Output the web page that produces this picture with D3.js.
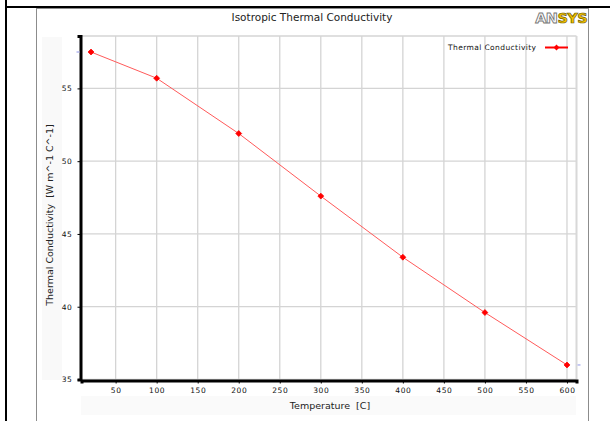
<!DOCTYPE html>
<html>
<head>
<meta charset="utf-8">
<script src="https://cdn.jsdelivr.net/npm/d3@7"></script>
<style>
  body { margin: 0; background: #fff; }
  svg text { font-family: "DejaVu Sans", sans-serif; white-space: pre; }
</style>
</head>
<body>
<div id="chart"></div>
<script>
// data
const temperatures = [20, 100, 200, 300, 400, 500, 600];
const conductivity = [57.5, 55.7, 51.9, 47.6, 43.4, 39.6, 36.0];
const xTicks = [50, 100, 150, 200, 250, 300, 350, 400, 450, 500, 550, 600];
const yTicks = [35, 40, 45, 50, 55];
const seriesName = "Thermal Conductivity";

function createConductivityChart() {
    const width = 610;
    const height = 421;

    const svg = d3.select("#chart")
        .append("svg")
        .attr("width", width)
        .attr("height", height);

    // outer window frame
    svg.append("rect")
        .attr("x", 36.5).attr("y", 8.5)
        .attr("width", 552).attr("height", 420)
        .attr("fill", "#fff")
        .attr("stroke", "#8c8c8c");
    svg.append("line")
        .attr("x1", 6).attr("x2", 610).attr("y1", 7).attr("y2", 7)
        .attr("stroke", "#000").attr("stroke-width", 2);
    svg.append("line")
        .attr("x1", 6).attr("x2", 6).attr("y1", 0).attr("y2", 421)
        .attr("stroke", "#000").attr("stroke-width", 2);

    // faint label bands
    svg.append("rect")
        .attr("x", 42).attr("y", 37).attr("width", 20).attr("height", 343)
        .attr("fill", "#f9f9f9");
    svg.append("rect")
        .attr("x", 81).attr("y", 396).attr("width", 495).attr("height", 19)
        .attr("fill", "#fafafa");

    const x = d3.scaleLinear().domain([8.4, 611.6]).range([81.5, 576.5]);
    const y = d3.scaleLinear().domain([35, 58.6]).range([379.5, 36]);

    // grid
    svg.append("g")
        .selectAll("line")
        .data(xTicks)
        .join("line")
        .attr("x1", d => x(d)).attr("x2", d => x(d))
        .attr("y1", y(58.6)).attr("y2", y(35))
        .attr("stroke", "#d4d4d4").attr("stroke-width", 1.3);
    svg.append("g")
        .selectAll("line")
        .data(yTicks.concat([58.6]))
        .join("line")
        .attr("x1", x(8.4)).attr("x2", x(611.6))
        .attr("y1", d => y(d)).attr("y2", d => y(d))
        .attr("stroke", "#d4d4d4").attr("stroke-width", 1.3);
    svg.append("line")
        .attr("x1", x(611.6)).attr("x2", x(611.6))
        .attr("y1", y(58.6)).attr("y2", y(35))
        .attr("stroke", "#d8d8d8").attr("stroke-width", 2);

    // axes
    const xAxis = svg.append("g")
        .attr("transform", `translate(0,${y(35) + 1})`)
        .call(d3.axisBottom(x).tickValues(xTicks).tickSize(3).tickPadding(4));
    xAxis.select(".domain").attr("stroke-width", 3);
    xAxis.selectAll("text").attr("font-size", 7.5).attr("fill", "#111")
        .attr("letter-spacing", 0.6);

    const yAxis = svg.append("g")
        .attr("transform", `translate(${x(8.4) - 1},0)`)
        .call(d3.axisLeft(y).tickValues(yTicks).tickSize(3).tickPadding(5));
    yAxis.select(".domain").attr("stroke-width", 3);
    yAxis.selectAll("text").attr("font-size", 7.5).attr("fill", "#111")
        .attr("letter-spacing", 0.6);

    // end markers on the axes
    svg.append("line")
        .attr("x1", x(8.4) - 5).attr("x2", x(8.4) - 2)
        .attr("y1", y(conductivity[0])).attr("y2", y(conductivity[0]))
        .attr("stroke", "#b4b8f0").attr("stroke-width", 1.5);
    svg.append("line")
        .attr("x1", x(611.6) + 1).attr("x2", x(611.6) + 4)
        .attr("y1", y(conductivity[6])).attr("y2", y(conductivity[6]))
        .attr("stroke", "#b4b8f0").attr("stroke-width", 1.5);

    // series
    const pts = temperatures.map((t, i) => [t, conductivity[i]]);
    svg.append("path")
        .datum(pts)
        .attr("fill", "none")
        .attr("stroke", "#ff5a5a")
        .attr("stroke-width", 1)
        .attr("d", d3.line().x(d => x(d[0])).y(d => y(d[1])));

    const diamond = d3.symbol().type(d3.symbolDiamond2).size(22);
    svg.append("g")
        .selectAll("path")
        .data(pts)
        .join("path")
        .attr("transform", d => `translate(${x(d[0])},${y(d[1])})`)
        .attr("d", diamond)
        .attr("fill", "#ff0000")
        .attr("stroke", "#ff0000")
        .attr("stroke-width", 0.8);

    // title
    svg.append("text")
        .attr("x", 312).attr("y", 21)
        .attr("text-anchor", "middle")
        .attr("font-size", 10.5)
        .attr("fill", "#222")
        .text("Isotropic Thermal Conductivity");

    // ANSYS logo
    const logo = svg.append("text")
        .attr("x", 587).attr("y", 23)
        .attr("text-anchor", "end")
        .attr("font-size", 14.5)
        .attr("font-weight", "bold")
        .attr("letter-spacing", -0.6);
    logo.append("tspan").text("AN")
        .attr("fill", "#fff").attr("stroke", "#777").attr("stroke-width", 0.9);
    logo.append("tspan").text("SYS")
        .attr("fill", "#f2c100").attr("stroke", "#6b5a00").attr("stroke-width", 0.7);

    // axis titles
    svg.append("text")
        .attr("x", 330).attr("y", 409)
        .attr("text-anchor", "middle")
        .attr("font-size", 9.5)
        .attr("fill", "#222")
        .text("Temperature  [C]");
    svg.append("text")
        .attr("transform", "translate(53,215) rotate(-90)")
        .attr("text-anchor", "middle")
        .attr("font-size", 9.5)
        .attr("fill", "#222")
        .text("Thermal Conductivity  [W m^-1 C^-1]");

    // legend
    svg.append("text")
        .attr("x", 448).attr("y", 50)
        .attr("font-size", 7.5)
        .attr("letter-spacing", 0.4)
        .attr("fill", "#111")
        .text(seriesName);
    svg.append("line")
        .attr("x1", 545).attr("x2", 568).attr("y1", 47.5).attr("y2", 47.5)
        .attr("stroke", "#ff0000").attr("stroke-width", 2);
    svg.append("path")
        .attr("transform", "translate(556.5,47.5)")
        .attr("d", diamond)
        .attr("fill", "#ff0000");
}

createConductivityChart();
</script>
</body>
</html>
